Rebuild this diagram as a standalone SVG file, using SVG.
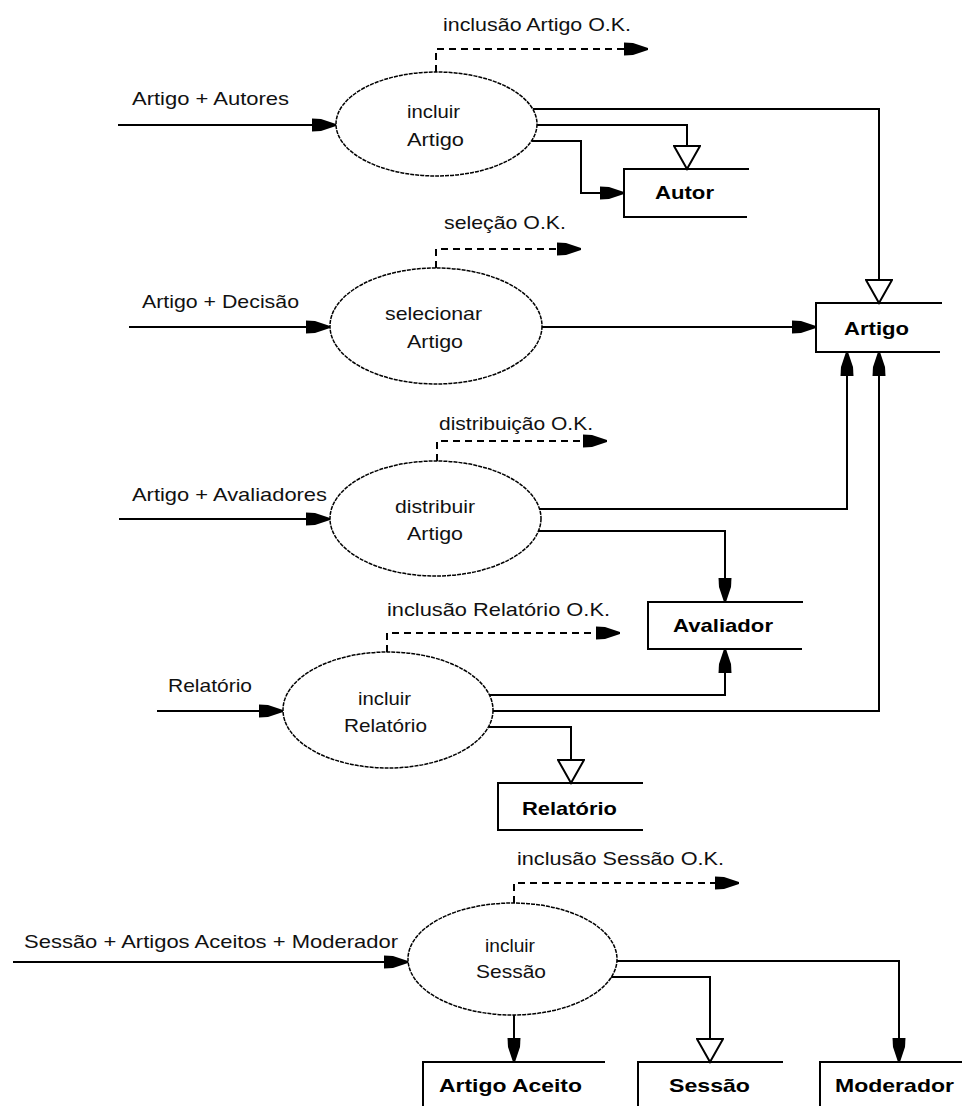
<svg xmlns="http://www.w3.org/2000/svg" width="962" height="1106" viewBox="0 0 962 1106">
  <style>
    .lbl { font-family: "Liberation Sans", Arial, sans-serif; font-size: 19px; fill: #111; }
    .store { font-family: "Liberation Sans", Arial, sans-serif; font-size: 19px; font-weight: bold; fill: #000; }
    .proc { fill: #fff; stroke: #000; stroke-width: 1.5; stroke-dasharray: 4 1; }
    .flow { fill: none; stroke: #000; stroke-width: 2; }
    .ok { fill: none; stroke: #000; stroke-width: 2; stroke-dasharray: 7 5; }
    .box { fill: none; stroke: #000; stroke-width: 2; }
  </style>
  <defs>
    <!-- solid bullet arrowhead for data flows -->
    <marker id="solid" markerUnits="userSpaceOnUse" markerWidth="24" markerHeight="14" refX="24" refY="7" orient="auto" viewBox="0 0 24 14">
      <path d="M0,0.5 L9,1 L24,6 L24,8 L9,13 L0,13.5 Z" fill="#000"/>
    </marker>
    <!-- open triangle arrowhead for writes to a store -->
    <marker id="hollow" markerUnits="userSpaceOnUse" markerWidth="26" markerHeight="28" refX="23" refY="14" orient="auto" viewBox="-1 0 26 28">
      <path d="M0,1 L23,14 L0,27 Z" fill="#fff" stroke="#000" stroke-width="2"/>
    </marker>
  </defs>

  <rect x="0" y="0" width="962" height="1106" fill="#fff"/>

  <!-- flows -->
  <g id="connectors">
    <!-- incluir Artigo -->
    <path class="flow" d="M118,125 H336" marker-end="url(#solid)"/>
    <path class="ok" d="M436,72 V49 H648" marker-end="url(#solid)"/>
    <path class="flow" d="M533,109 H879 V303" marker-end="url(#hollow)"/>
    <path class="flow" d="M537,125 H687 V169" marker-end="url(#hollow)"/>
    <path class="flow" d="M532,141 H581 V193 H624" marker-end="url(#solid)"/>

    <!-- selecionar Artigo -->
    <path class="flow" d="M129,327 H330" marker-end="url(#solid)"/>
    <path class="ok" d="M436,268 V249 H581" marker-end="url(#solid)"/>
    <path class="flow" d="M542,327 H816" marker-end="url(#solid)"/>

    <!-- distribuir Artigo -->
    <path class="flow" d="M119,519 H330" marker-end="url(#solid)"/>
    <path class="ok" d="M437,461 V441 H607" marker-end="url(#solid)"/>
    <path class="flow" d="M538,509 H847 V352" marker-end="url(#solid)"/>
    <path class="flow" d="M538,531 H725 V602" marker-end="url(#solid)"/>

    <!-- incluir Relatório -->
    <path class="flow" d="M157,711 H283" marker-end="url(#solid)"/>
    <path class="ok" d="M387,652 V633 H620" marker-end="url(#solid)"/>
    <path class="flow" d="M489,695 H725 V649" marker-end="url(#solid)"/>
    <path class="flow" d="M493,711 H879 V352" marker-end="url(#solid)"/>
    <path class="flow" d="M489,727 H571 V783" marker-end="url(#hollow)"/>

    <!-- incluir Sessão -->
    <path class="flow" d="M13,962 H408" marker-end="url(#solid)"/>
    <path class="ok" d="M514,903 V883 H739" marker-end="url(#solid)"/>
    <path class="flow" d="M617,961 H899 V1062" marker-end="url(#solid)"/>
    <path class="flow" d="M611,977 H710 V1062" marker-end="url(#hollow)"/>
    <path class="flow" d="M514,1015 V1062" marker-end="url(#solid)"/>
  </g>

  <!-- flow labels -->
  <g id="flow-labels">
    <text class="lbl" x="443" y="31" textLength="188" lengthAdjust="spacingAndGlyphs">inclusão Artigo O.K.</text>
    <text class="lbl" x="132" y="105" textLength="157" lengthAdjust="spacingAndGlyphs">Artigo + Autores</text>
    <text class="lbl" x="444" y="229" textLength="122" lengthAdjust="spacingAndGlyphs">seleção O.K.</text>
    <text class="lbl" x="142" y="308" textLength="157" lengthAdjust="spacingAndGlyphs">Artigo + Decisão</text>
    <text class="lbl" x="439" y="430" textLength="154" lengthAdjust="spacingAndGlyphs">distribuição O.K.</text>
    <text class="lbl" x="132" y="501" textLength="195" lengthAdjust="spacingAndGlyphs">Artigo + Avaliadores</text>
    <text class="lbl" x="387" y="616" textLength="223" lengthAdjust="spacingAndGlyphs">inclusão Relatório O.K.</text>
    <text class="lbl" x="168" y="692" textLength="84" lengthAdjust="spacingAndGlyphs">Relatório</text>
    <text class="lbl" x="517" y="865" textLength="207" lengthAdjust="spacingAndGlyphs">inclusão Sessão O.K.</text>
    <text class="lbl" x="24" y="948" textLength="374" lengthAdjust="spacingAndGlyphs">Sessão + Artigos Aceitos + Moderador</text>
  </g>

  <!-- processes -->
  <g id="incluir-artigo">
    <ellipse class="proc" cx="436.5" cy="124" rx="100.5" ry="52"/>
    <text class="lbl" x="407" y="118" textLength="53" lengthAdjust="spacingAndGlyphs">incluir</text>
    <text class="lbl" x="407" y="146" textLength="57" lengthAdjust="spacingAndGlyphs">Artigo</text>
  </g>
  <g id="selecionar-artigo">
    <ellipse class="proc" cx="436" cy="326" rx="106" ry="58"/>
    <text class="lbl" x="385" y="320" textLength="97" lengthAdjust="spacingAndGlyphs">selecionar</text>
    <text class="lbl" x="407" y="348" textLength="56" lengthAdjust="spacingAndGlyphs">Artigo</text>
  </g>
  <g id="distribuir-artigo">
    <ellipse class="proc" cx="435.5" cy="518.5" rx="105.5" ry="57.5"/>
    <text class="lbl" x="395" y="513" textLength="80" lengthAdjust="spacingAndGlyphs">distribuir</text>
    <text class="lbl" x="407" y="540" textLength="56" lengthAdjust="spacingAndGlyphs">Artigo</text>
  </g>
  <g id="incluir-relatorio">
    <ellipse class="proc" cx="388" cy="710" rx="105" ry="58"/>
    <text class="lbl" x="358" y="705" textLength="53" lengthAdjust="spacingAndGlyphs">incluir</text>
    <text class="lbl" x="344" y="732" textLength="83" lengthAdjust="spacingAndGlyphs">Relatório</text>
  </g>
  <g id="incluir-sessao">
    <ellipse class="proc" cx="512.5" cy="959" rx="104.5" ry="56"/>
    <text class="lbl" x="485" y="952" textLength="50" lengthAdjust="spacingAndGlyphs">incluir</text>
    <text class="lbl" x="476" y="978" textLength="70" lengthAdjust="spacingAndGlyphs">Sessão</text>
  </g>

  <!-- data stores (open on the right) -->
  <g id="store-autor">
    <path class="box" d="M749,169 H624 V217 H747"/>
    <text class="store" x="655" y="199" textLength="59" lengthAdjust="spacingAndGlyphs">Autor</text>
  </g>
  <g id="store-artigo">
    <path class="box" d="M942,303 H816 V352 H940"/>
    <text class="store" x="844" y="335" textLength="65" lengthAdjust="spacingAndGlyphs">Artigo</text>
  </g>
  <g id="store-avaliador">
    <path class="box" d="M803,602 H648 V649 H802"/>
    <text class="store" x="673" y="632" textLength="100" lengthAdjust="spacingAndGlyphs">Avaliador</text>
  </g>
  <g id="store-relatorio">
    <path class="box" d="M643,783 H498 V830 H643"/>
    <text class="store" x="522" y="815" textLength="95" lengthAdjust="spacingAndGlyphs">Relatório</text>
  </g>
  <g id="store-artigo-aceito">
    <path class="box" d="M605,1062 H423 V1110"/>
    <text class="store" x="439" y="1092" textLength="143" lengthAdjust="spacingAndGlyphs">Artigo Aceito</text>
  </g>
  <g id="store-sessao">
    <path class="box" d="M783,1062 H638 V1110"/>
    <text class="store" x="669" y="1092" textLength="81" lengthAdjust="spacingAndGlyphs">Sessão</text>
  </g>
  <g id="store-moderador">
    <path class="box" d="M964,1062 H820 V1110"/>
    <text class="store" x="835" y="1092" textLength="119" lengthAdjust="spacingAndGlyphs">Moderador</text>
  </g>
</svg>
